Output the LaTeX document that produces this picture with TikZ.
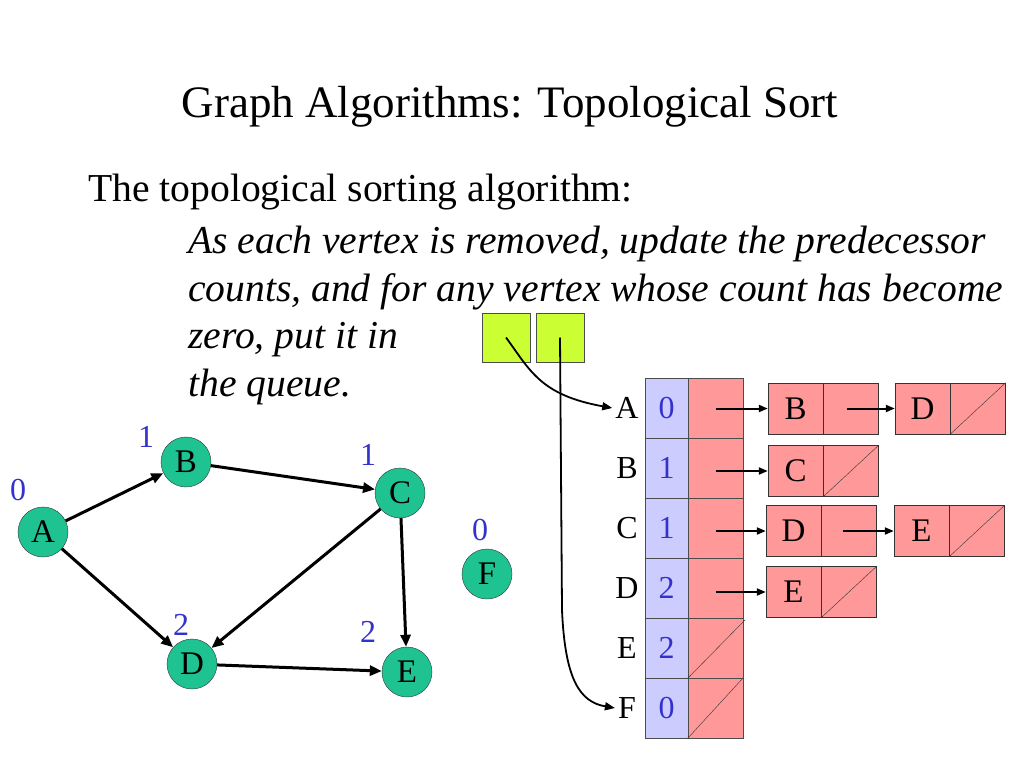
\documentclass[tikz,border=0pt]{standalone}
\usepackage{fontspec}
\setmainfont{Liberation Serif}
\usetikzlibrary{positioning}
\usetikzlibrary{arrows.meta}

\definecolor{vgreen}{RGB}{30,195,145}
\definecolor{qgreen}{RGB}{204,255,51}
\definecolor{cntblue}{RGB}{204,204,255}
\definecolor{ptrred}{RGB}{255,153,153}
\definecolor{numblue}{RGB}{51,51,204}

\tikzset{
  vertex/.style={circle, draw=black!80, fill=vgreen, minimum size=50pt, inner sep=0pt, font=\fontsize{33}{33}\selectfont},
  count/.style={text=numblue, inner sep=0pt, font=\fontsize{32}{32}\selectfont},
  edge/.style={-{Triangle[length=12pt,width=10pt]}, line width=3pt},
  qbox/.style={draw=black!70, fill=qgreen, minimum width=48pt, minimum height=49pt, inner sep=0pt},
  cntcell/.style={draw=black!70, fill=cntblue, text=numblue, minimum width=43pt, minimum height=60pt, inner sep=0pt, font=\fontsize{32}{32}\selectfont},
  ptrcell/.style={draw=black!70, fill=ptrred, minimum width=55pt, minimum height=60pt, inner sep=0pt},
  cell/.style={draw=black!80, fill=ptrred, minimum width=55pt, minimum height=51pt, inner sep=0pt, font=\fontsize{33}{33}\selectfont},
  rowlbl/.style={inner sep=0pt, font=\fontsize{32}{32}\selectfont},
  link/.style={-{Triangle[length=9pt,width=7pt]}, line width=2pt},
  qlink/.style={-{Triangle[length=10pt,width=8pt]}, line width=1.8pt}
}

\begin{document}
\begin{tikzpicture}[x=1pt,y=-1pt]
\useasboundingbox (0,0) rectangle (1024,768);

% texts
\node[anchor=base, inner sep=0pt, font=\fontsize{45}{45}\selectfont] (title) at (510,117) {Graph Algorithms: Topological Sort};
\node[anchor=base west, inner sep=0pt, font=\fontsize{39.6}{40}\selectfont] (intro) at (88,201) {The topological sorting algorithm:};
\node[anchor=base west, inner sep=0pt, font=\fontsize{39.6}{40}\selectfont\itshape] (l1) at (188,253) {As each vertex is removed, update the predecessor};
\node[anchor=base west, inner sep=0pt, font=\fontsize{39.6}{40}\selectfont\itshape] (l2) at (188,301) {counts, and for any vertex whose count has become};
\node[anchor=base west, inner sep=0pt, font=\fontsize{39.6}{40}\selectfont\itshape] (l3) at (188,348) {zero, put it in};
\node[anchor=base west, inner sep=0pt, font=\fontsize{39.6}{40}\selectfont\itshape] (l4) at (188,396) {the queue.};

% graph
\node[vertex] (A) at (43,532) {A};
\node[vertex] (B) at (186,462) {B};
\node[vertex] (C) at (400,493) {C};
\node[vertex] (D) at (192,664) {D};
\node[vertex] (E) at (407,672) {E};
\node[vertex] (F) at (487,574) {F};

\node[count] (nA) at (18,490) {0};
\node[count] (nB) at (146,437) {1};
\node[count] (nC) at (368,455) {1};
\node[count] (nF) at (480,530) {0};
\node[count] (nD) at (181,625) {2};
\node[count] (nE) at (368,632) {2};

\draw[edge] (A) -- (B);
\draw[edge] (B) -- (C);
\draw[edge] (A) -- (D);
\draw[edge] (C) -- (D);
\draw[edge] (C) -- (E);
\draw[edge] (D) -- (E);

% queue
\node[qbox] (q1) at (506,337.5) {};
\node[qbox] (q2) at (560,337.5) {};

% table
\foreach \v/\c/\y in {A/0/408, B/1/468, C/1/528, D/2/588, E/2/648, F/0/708} {
  \node[rowlbl] (r\v) at (627,\y) {\v};
  \node[cntcell] (c\v) at (666.5,\y) {\c};
  \node[ptrcell] (p\v) at (715.5,\y) {};
}
\draw[black!80] (pE.south west) -- ([xshift=2pt,yshift=-2pt]pE.north east);
\draw[black!80] (pF.south west) -- (pF.north east);

% lists
\node[cell] (aB) at (795.5,408.5) {B};
\node[cell, right=0pt of aB] (aBn) {};
\node[cell] (aD) at (922.5,408.5) {D};
\node[cell, right=0pt of aD] (aDn) {};
\draw[black!80] (aDn.south west) -- (aDn.north east);

\node[cell] (bC) at (795.5,471) {C};
\node[cell, right=0pt of bC] (bCn) {};
\draw[black!80] (bCn.south west) -- (bCn.north east);

\node[cell] (cD) at (793.5,531) {D};
\node[cell, right=0pt of cD] (cDn) {};
\node[cell] (cE) at (921.5,531) {E};
\node[cell, right=0pt of cE] (cEn) {};
\draw[black!80] (cEn.south west) -- (cEn.north east);

\node[cell] (dE) at (793.5,592) {E};
\node[cell, right=0pt of dE] (dEn) {};
\draw[black!80] (dEn.south west) -- (dEn.north east);

\draw[link] (pA.center |- aB.west) -- (aB.west);
\draw[link] ([xshift=-4pt]aBn.center) -- (aD.west);
\draw[link] (pB.center |- bC.west) -- (bC.west);
\draw[link] (pC.center |- cD.west) -- (cD.west);
\draw[link] ([xshift=-6pt]cDn.center) -- (cE.west);
\draw[link] (pD.center |- dE.west) -- (dE.west);

% queue pointers
\draw[qlink] (q1.center) .. controls (530,370) and (540,395) .. ([xshift=-3pt]rA.west);
\draw[qlink] (q2.center) -- (562,610) .. controls (565,680) and (580,702) .. ([xshift=-3pt]rF.west);

\end{tikzpicture}
\end{document}
